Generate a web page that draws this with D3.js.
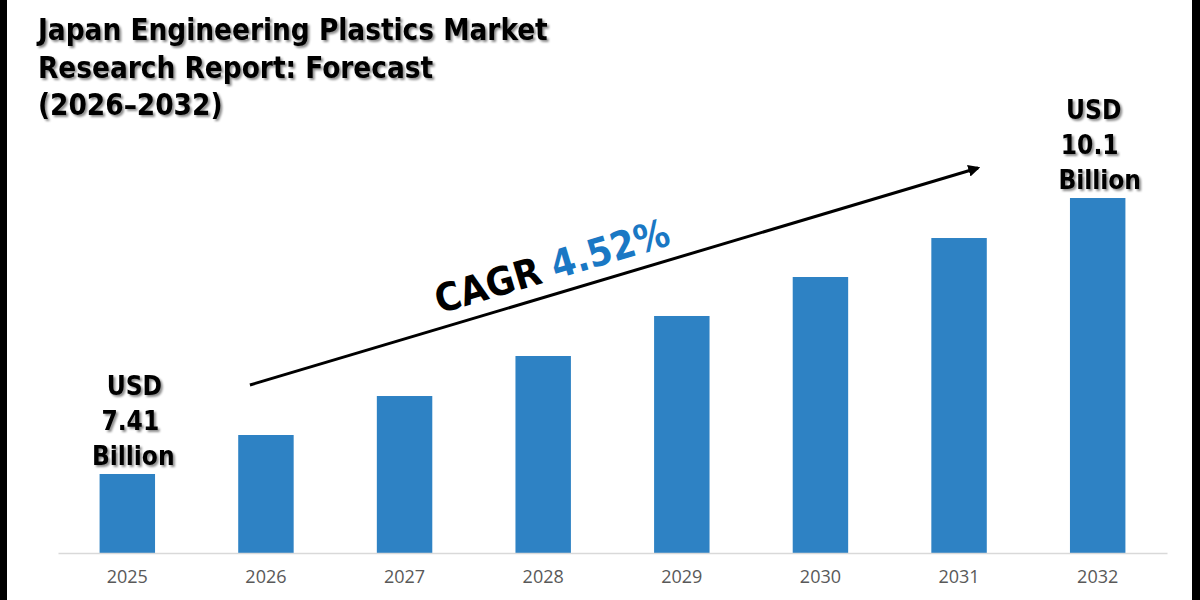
<!DOCTYPE html>
<html>
<head>
<meta charset="utf-8">
<script src="https://cdn.jsdelivr.net/npm/d3@7"></script>
<style>
  body { margin: 0; background: #fff; }
  svg { display: block; }
</style>
</head>
<body>
<svg id="chart" width="1200" height="600"></svg>
<script>
// data
const years = ["2025", "2026", "2027", "2028", "2029", "2030", "2031", "2032"];
const values = [7.41, 7.79, 8.17, 8.56, 8.95, 9.33, 9.71, 10.1];
const titleLines = ["Japan Engineering Plastics Market", "Research Report: Forecast", "(2026\u20132032)"];
const startLabel = ["USD", "7.41", "Billion"];
const endLabel = ["USD", "10.1", "Billion"];
const cagrWord = "CAGR";
const cagrValue = "4.52%";

const W = 1200, H = 600;
const svg = d3.select("#chart");
const titleFont = "'DejaVu Sans Condensed', 'DejaVu Sans', sans-serif";

// drop shadow for the black texts
const defs = svg.append("defs");
defs.append("filter")
  .attr("id", "shadow")
  .attr("x", "-10%").attr("y", "-20%").attr("width", "130%").attr("height", "150%")
  .append("feDropShadow")
  .attr("dx", 2).attr("dy", 2).attr("stdDeviation", 1.2)
  .attr("flood-color", "#000").attr("flood-opacity", 0.45);

defs.append("marker")
  .attr("id", "arrowhead")
  .attr("viewBox", "0 0 10 10")
  .attr("refX", 8).attr("refY", 5)
  .attr("markerWidth", 4).attr("markerHeight", 4)
  .attr("orient", "auto")
  .append("path")
  .attr("d", "M0,0L10,5L0,10z")
  .attr("fill", "#000");

svg.append("rect").attr("width", W).attr("height", H).attr("fill", "#fff");

// scales
const x = d3.scaleBand()
  .domain(years)
  .range([58, 1167])
  .paddingInner(0.6)
  .paddingOuter(0.3);

const y = d3.scaleLinear()
  .domain([6.64, 10.1])
  .range([553, 198]);

// bars
svg.append("g")
  .selectAll("rect")
  .data(years)
  .join("rect")
  .attr("x", d => x(d))
  .attr("y", (d, i) => y(values[i]))
  .attr("width", x.bandwidth())
  .attr("height", (d, i) => y.range()[0] - y(values[i]))
  .attr("fill", "#2e82c4");

// x axis
const axis = svg.append("g")
  .attr("transform", `translate(0,${y.range()[0]})`)
  .call(d3.axisBottom(x).tickSize(0).tickSizeOuter(0).tickPadding(17));
axis.select(".domain").attr("stroke", "#d9d9d9").attr("stroke-width", 1.5);
axis.selectAll("text")
  .attr("fill", "#595959")
  .style("font-family", "'Open Sans', sans-serif")
  .style("font-size", "18px");

// title, scaled so the first line spans the same width as the reference
const title = svg.append("g").attr("filter", "url(#shadow)");
const tTexts = title.selectAll("text")
  .data(titleLines)
  .join("text")
  .attr("x", 38)
  .attr("y", (d, i) => 40 + i * 37.5)
  .attr("fill", "#000")
  .style("font-family", titleFont)
  .style("font-weight", "bold")
  .style("font-size", "30px")
  .text(d => d);
const firstLen = tTexts.node().getComputedTextLength();
tTexts.style("font-size", (30 * 510 / firstLen) + "px");

// value labels above first and last bars
function valueLabel(lines, idx, shifts) {
  const cx = x(years[idx]) + x.bandwidth() / 2;
  const top = y(values[idx]);
  svg.append("g")
    .attr("filter", "url(#shadow)")
    .selectAll("text")
    .data(lines)
    .join("text")
    .attr("x", (d, i) => cx + shifts[i])
    .attr("y", (d, i) => top - 9 - (lines.length - 1 - i) * 35)
    .attr("text-anchor", "middle")
    .attr("fill", "#000")
    .style("font-family", titleFont)
    .style("font-weight", "bold")
    .style("font-size", "26px")
    .text(d => d);
}
valueLabel(startLabel, 0, [7, 3, 6]);
valueLabel(endLabel, years.length - 1, [-4, -8, 2]);

// growth arrow
const x0 = x(years[1]) + x.bandwidth() / 2 - 16;
const y0 = y(values[1]) - 50;
const x1 = x(years[years.length - 1]) - 92;
const y1 = y(values[values.length - 1]) - 30;
svg.append("line")
  .attr("x1", x0).attr("y1", y0)
  .attr("x2", x1).attr("y2", y1)
  .attr("stroke", "#000")
  .attr("stroke-width", 3)
  .attr("marker-end", "url(#arrowhead)");

// CAGR text along the arrow
const angle = Math.atan2(y1 - y0, x1 - x0) * 180 / Math.PI;
const t = 0.266;
const tx = x0 + (x1 - x0) * t, ty = y0 + (y1 - y0) * t;
const cagr = svg.append("text")
  .attr("transform", `translate(${tx},${ty}) rotate(${angle})`)
  .attr("y", -14)
  .style("font-family", titleFont)
  .style("font-weight", "bold")
  .style("font-size", "39px");
cagr.append("tspan").attr("fill", "#000").text(cagrWord + " ");
cagr.append("tspan").attr("fill", "#1a78c4").text(cagrValue);

// dark side strips
svg.append("rect").attr("x", 0).attr("y", 0).attr("width", 7).attr("height", H).attr("fill", "#000");
svg.append("rect").attr("x", 1192).attr("y", 0).attr("width", 8).attr("height", H).attr("fill", "#000");
</script>
</body>
</html>
